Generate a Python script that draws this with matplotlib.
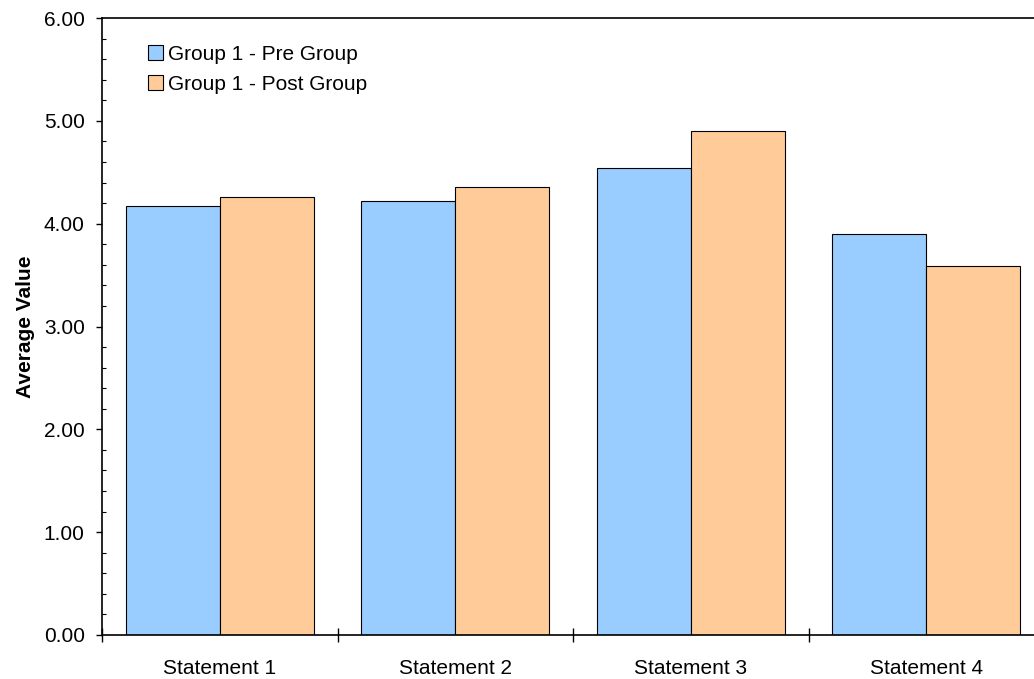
import numpy as np
import matplotlib.pyplot as plt
from matplotlib.ticker import MultipleLocator, FixedLocator

plt.rcParams['font.family'] = ['Liberation Sans', 'DejaVu Sans']

# 항목과 평균값
statements = ['Statement 1', 'Statement 2', 'Statement 3', 'Statement 4']
pre_values = [4.17, 4.22, 4.54, 3.90]
post_values = [4.26, 4.36, 4.90, 3.59]
series_names = ['Group 1 - Pre Group', 'Group 1 - Post Group']

W, H = 1034, 679
fig = plt.figure(figsize=(W / 100, H / 100), dpi=100)
# 오른쪽 끝은 그림 밖으로 약간 넘어감
ax = fig.add_axes([102 / W, 44 / H, 942 / W, 617 / H])

x = np.arange(1, len(statements) + 1)
bw = 0.4
ax.bar(x - bw / 2, pre_values, bw, color='#99CCFF', edgecolor='black', linewidth=0.8, label=series_names[0])
ax.bar(x + bw / 2, post_values, bw, color='#FFCC99', edgecolor='black', linewidth=0.8, label=series_names[1])

ax.set_xlim(0.5, len(statements) + 0.5)
ax.set_ylim(0, 6)

# y축 눈금
ax.yaxis.set_major_locator(MultipleLocator(1))
ax.yaxis.set_minor_locator(MultipleLocator(0.2))
ax.set_yticklabels([f'{v:.2f}' for v in ax.get_yticks()], fontsize=15)
ax.tick_params(axis='y', which='major', direction='out', length=4.5, width=1, pad=8)
ax.tick_params(axis='y', which='minor', direction='in', length=3, width=0.8)

# x축: 경계에 눈금, 가운데에 레이블
ax.xaxis.set_major_locator(FixedLocator(np.arange(0.5, len(statements) + 1, 1.0)))
ax.xaxis.set_major_formatter(plt.NullFormatter())
ax.xaxis.set_minor_locator(FixedLocator(x))
ax.set_xticklabels(statements, minor=True, fontsize=15)
ax.tick_params(axis='x', which='major', direction='inout', length=10, width=1)
ax.tick_params(axis='x', which='minor', length=0, pad=17)

ax.set_ylabel('Average Value', fontsize=15, fontweight='bold', labelpad=6)

for s in ['left', 'bottom', 'top']:
    ax.spines[s].set_linewidth(1.2)
ax.spines['right'].set_visible(False)

ax.legend(loc='upper left', bbox_to_anchor=(0.0488, 0.957), frameon=False, fontsize=15,
          handlelength=0.72, handleheight=0.72, handletextpad=0.25, labelspacing=0.54,
          borderaxespad=0, borderpad=0)

fig.savefig('out.png', dpi=100)
